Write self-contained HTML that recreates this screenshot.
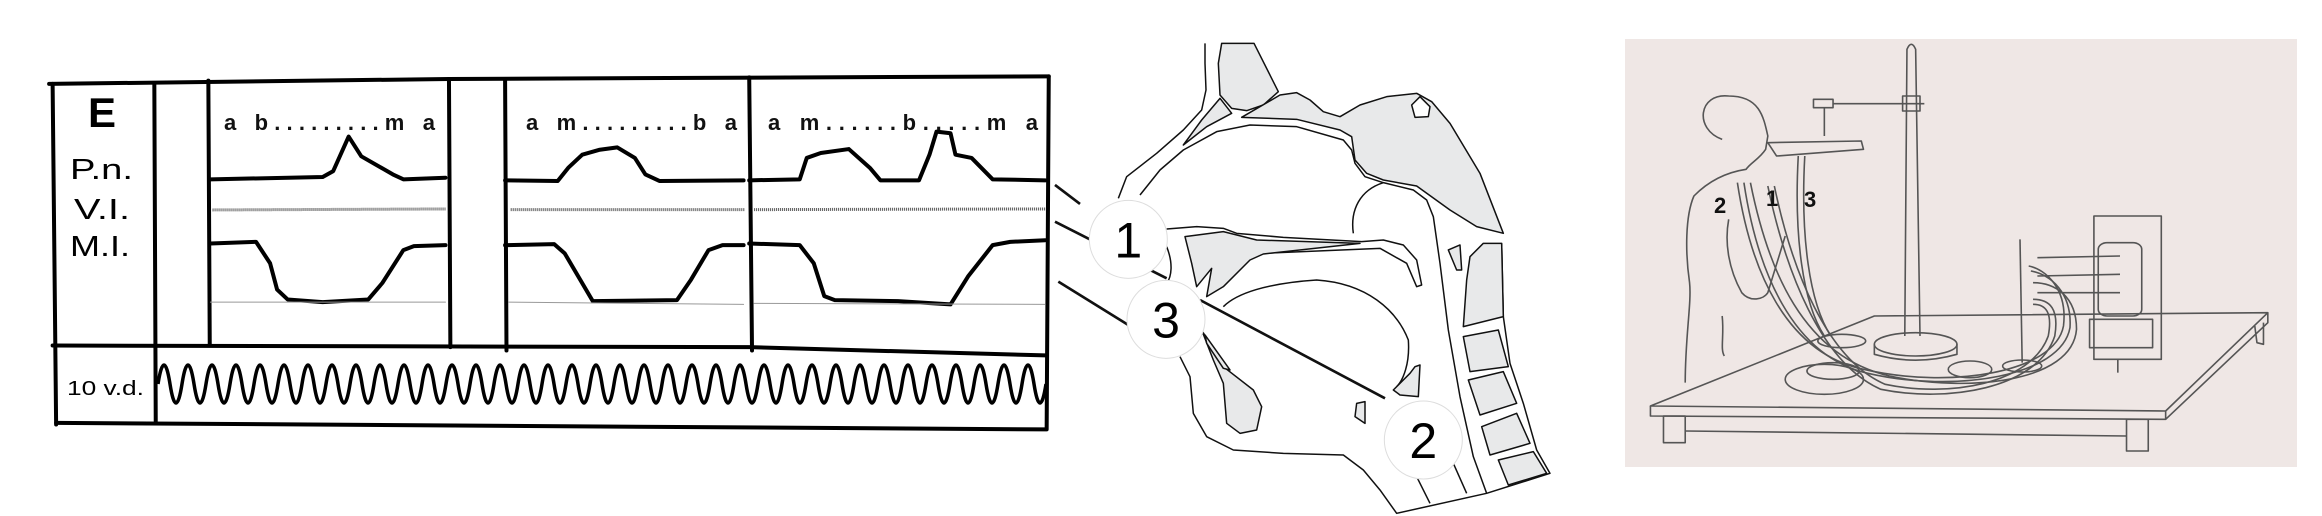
<!DOCTYPE html>
<html><head><meta charset="utf-8"><style>
html,body{margin:0;padding:0;background:#fff;}
svg{display:block;}
text{font-family:"Liberation Sans","DejaVu Sans",sans-serif;}
</style></head><body>
<svg id="s" width="2322" height="516" viewBox="0 0 2322 516" xmlns="http://www.w3.org/2000/svg">
<rect width="2322" height="516" fill="#fff"/>

<!-- ===== CHART (zoom1 coords) ===== -->
<g transform="scale(0.70151,0.32906)" fill="none" stroke="#000" stroke-linejoin="round" stroke-linecap="round">
 <g stroke-width="4">
  <polyline vector-effect="non-scaling-stroke" points="70,255 640,240 1495,232"/>
  <line vector-effect="non-scaling-stroke" x1="75" y1="255" x2="80" y2="1290"/>
  <line vector-effect="non-scaling-stroke" x1="220" y1="255" x2="222" y2="1280"/>
  <line vector-effect="non-scaling-stroke" x1="297" y1="245" x2="299" y2="1050"/>
  <line vector-effect="non-scaling-stroke" x1="640" y1="240" x2="642" y2="1055"/>
  <line vector-effect="non-scaling-stroke" x1="720" y1="240" x2="722" y2="1065"/>
  <line vector-effect="non-scaling-stroke" x1="1068" y1="235" x2="1072" y2="1065"/>
  <line vector-effect="non-scaling-stroke" x1="1495" y1="232" x2="1492" y2="1305"/>
  <polyline vector-effect="non-scaling-stroke" points="75,1050 1068,1055 1490,1080"/>
  <polyline vector-effect="non-scaling-stroke" points="80,1285 1490,1305"/>
  <polyline vector-effect="non-scaling-stroke" points="300,545 460,538 475,520 497,415 515,475 560,530 575,545 635,540"/>
  <polyline vector-effect="non-scaling-stroke" points="720,548 795,550 810,510 830,470 855,455 880,448 905,480 920,530 940,550 1060,548"/>
  <polyline vector-effect="non-scaling-stroke" points="1068,548 1140,545 1150,480 1170,465 1210,453 1240,510 1255,548 1310,548 1325,470 1335,400 1355,405 1362,470 1385,480 1415,545 1490,548"/>
  <polyline vector-effect="non-scaling-stroke" points="300,740 365,735 385,800 395,880 410,910 460,918 525,910 545,860 575,760 590,748 635,745"/>
  <polyline vector-effect="non-scaling-stroke" points="720,745 790,742 805,770 845,915 965,912 985,850 1010,760 1030,745 1060,745"/>
  <polyline vector-effect="non-scaling-stroke" points="1068,740 1140,745 1160,800 1175,900 1190,912 1280,915 1355,925 1380,840 1415,745 1440,735 1490,730"/>
 </g>
 <g stroke="#999" stroke-width="1">
  <line vector-effect="non-scaling-stroke" x1="300" y1="918" x2="635" y2="918"/>
  <line vector-effect="non-scaling-stroke" x1="725" y1="918" x2="1060" y2="925"/>
  <line vector-effect="non-scaling-stroke" x1="1075" y1="922" x2="1490" y2="925"/>
 </g>
 <g stroke="#555" stroke-width="3" stroke-dasharray="1 1" stroke-linecap="butt">
  <line vector-effect="non-scaling-stroke" x1="303" y1="638" x2="635" y2="635"/>
  <line vector-effect="non-scaling-stroke" x1="728" y1="637" x2="1062" y2="637"/>
  <line vector-effect="non-scaling-stroke" x1="1075" y1="637" x2="1490" y2="635"/>
 </g>
</g>
<path id="wave" fill="none" stroke="#000" stroke-width="3.5" d=""/>
<text x="102" y="127" font-size="42" font-weight="bold" text-anchor="middle">E</text>
<text x="70" y="179" font-size="29" textLength="63" lengthAdjust="spacingAndGlyphs">P.n.</text>
<text x="74" y="219" font-size="29" textLength="56" lengthAdjust="spacingAndGlyphs">V.I.</text>
<text x="70" y="256" font-size="29" textLength="60" lengthAdjust="spacingAndGlyphs">M.I.</text>
<text x="67" y="395" font-size="20" textLength="77" lengthAdjust="spacingAndGlyphs">10 v.d.</text>
<g font-size="22" font-weight="bold" fill="#111">
<text x="224" y="130" textLength="211" lengthAdjust="spacing">a b.........m a</text>
<text x="526" y="130" textLength="211" lengthAdjust="spacing">a m.........b a</text>
<text x="768" y="130" textLength="270" lengthAdjust="spacing">a m......b.....m a</text>
</g>

<!-- ===== HEAD ===== -->
<g transform="translate(1050,30) scale(0.33333)" stroke="#111" stroke-width="4.5" stroke-linejoin="round" fill="none">
 <polygon fill="#e8e9ea" points="515,40 612,40 685,185 640,225 590,242 545,235 510,195 505,100"/>
 <polygon fill="#e8e9ea" points="510,205 545,250 470,290 400,345 455,270"/>
 <polygon fill="#e8e9ea" points="575,262 690,195 740,188 780,210 820,245 870,260 930,225 1010,200 1100,190 1145,215 1200,280 1290,430 1360,610 1280,590 1200,540 1100,468 1000,450 950,430 915,390 905,320 870,300 740,268"/>
 <polygon fill="#fff" points="1085,225 1110,200 1140,230 1135,260 1095,262"/>
 <polyline points="465,40 465,100 468,180 455,240 400,300 320,370 230,440 205,505"/>
 <polyline points="270,495 330,420 400,360 500,305 600,285 740,290 880,330 905,360 915,400 945,440 1000,458 1090,480 1130,510 1150,560 1170,700 1195,900 1230,1100 1270,1280 1310,1390"/>
 <path d="M1000,458 C930,480 900,540 910,610"/>
 <polyline points="350,597 440,590 520,595 560,610 700,622 935,635 1000,630 1060,645 1100,690 1115,765 1100,770 1070,700 990,655 640,670"/>
 <polygon fill="#e8e9ea" points="405,620 520,605 620,630 930,640 640,672 600,690 520,770 470,800 485,715 440,770 425,700"/>
 <path d="M350,650 C370,700 365,740 350,760"/>
 <path d="M520,830 C560,790 650,760 800,750 C950,760 1040,840 1075,930 C1080,1000 1060,1050 1040,1070"/>
 <polyline points="390,980 420,1040 430,1150 470,1220 550,1260 700,1270 880,1275 940,1320 990,1380 1040,1450 1310,1390 1500,1330 1460,1260 1420,1120 1380,1000 1360,860 1355,640"/>
 <polygon fill="#e8e9ea" points="455,900 520,1010 610,1080 635,1130 620,1200 570,1210 530,1180 520,1060 490,990"/>
 <polygon fill="#e8e9ea" points="465,915 540,1020 520,1015 470,940"/>
 <polygon fill="#e8e9ea" points="1095,1010 1110,1005 1105,1100 1050,1095 1030,1080 1080,1030"/>
 <polygon fill="#e8e9ea" points="920,1120 945,1115 945,1180 915,1160"/>
 <polygon fill="#e8e9ea" points="1195,660 1230,645 1235,720 1220,720"/>
 <polygon fill="#e8e9ea" points="1260,680 1300,640 1355,640 1360,860 1240,890 1250,750"/>
 <polygon fill="#e8e9ea" points="1240,920 1345,900 1375,1010 1260,1025"/>
 <polygon fill="#e8e9ea" points="1255,1050 1360,1025 1400,1120 1290,1155"/>
 <polygon fill="#e8e9ea" points="1295,1190 1400,1150 1440,1240 1320,1275"/>
 <polygon fill="#e8e9ea" points="1345,1290 1450,1265 1490,1330 1375,1365"/>
 <line x1="1100" y1="1340" x2="1140" y2="1420"/>
 <line x1="1210" y1="1300" x2="1250" y2="1390"/>
 <g stroke-width="8">
  <line x1="15" y1="465" x2="90" y2="522"/>
  <line x1="15" y1="575" x2="350" y2="745"/>
  <line x1="25" y1="755" x2="235" y2="885"/>
  <line x1="450" y1="810" x2="1005" y2="1105"/>
 </g>
 <g fill="#fff" stroke="#ddd" stroke-width="3">
  <circle cx="235" cy="628" r="117"/>
  <circle cx="348" cy="868" r="117"/>
  <circle cx="1120" cy="1230" r="117"/>
 </g>
 <g fill="#000" stroke="none" font-size="150" text-anchor="middle">
  <text x="235" y="682">1</text>
  <text x="348" y="922">3</text>
  <text x="1120" y="1284">2</text>
 </g>
</g>

<!-- ===== PHOTO ===== -->
<rect x="1625" y="39" width="672" height="428" fill="#efe7e5"/>
<g transform="translate(1620,36) scale(0.43478,0.33333)" fill="none" stroke="#555" stroke-width="1.6" stroke-linejoin="round">
 <polygon vector-effect="non-scaling-stroke" points="70,1110 585,840 1490,830 1255,1125"/>
 <polyline vector-effect="non-scaling-stroke" points="70,1110 70,1140 1255,1150 1255,1125"/>
 <polyline vector-effect="non-scaling-stroke" points="1255,1150 1490,860 1490,830"/>
 <rect vector-effect="non-scaling-stroke" x="100" y="1140" width="50" height="80"/>
 <rect vector-effect="non-scaling-stroke" x="1165" y="1150" width="50" height="95"/>
 <polyline vector-effect="non-scaling-stroke" points="1460,870 1465,920 1480,925 1480,860"/>
 <line vector-effect="non-scaling-stroke" x1="150" y1="1185" x2="1165" y2="1200"/>
 <path vector-effect="non-scaling-stroke" d="M655,900 L660,40 Q670,10 680,40 L690,900"/>
 <ellipse vector-effect="non-scaling-stroke" cx="680" cy="925" rx="95" ry="35"/>
 <path vector-effect="non-scaling-stroke" d="M585,925 L585,955 Q680,990 775,955 L775,925"/>
 <rect vector-effect="non-scaling-stroke" x="445" y="190" width="45" height="25"/>
 <line vector-effect="non-scaling-stroke" x1="490" y1="203" x2="700" y2="203"/>
 <rect vector-effect="non-scaling-stroke" x="650" y="180" width="40" height="45"/>
 <line vector-effect="non-scaling-stroke" x1="470" y1="215" x2="470" y2="300"/>
 <path vector-effect="non-scaling-stroke" d="M340,320 L555,315 L560,340 L360,360 Z"/>
 <path vector-effect="non-scaling-stroke" d="M235,310 C170,280 180,170 250,180 C320,180 330,240 340,300 L335,340 C320,370 300,380 290,400 C240,410 200,440 170,480 C150,540 150,650 160,740 C165,800 150,900 150,1040"/>
 <path vector-effect="non-scaling-stroke" d="M250,550 C240,620 250,700 280,770 C300,800 330,790 340,770 L380,600"/>
 <path vector-effect="non-scaling-stroke" d="M235,840 C240,900 230,940 240,960"/>
 <path vector-effect="non-scaling-stroke" d="M270,440 C300,700 380,950 560,1000 C760,1060 1000,1010 1020,870 C1030,760 980,700 940,690"/>
 <path vector-effect="non-scaling-stroke" d="M285,440 C315,700 395,960 570,1012 C770,1072 1015,1022 1035,875 C1040,770 990,715 945,705"/>
 <path vector-effect="non-scaling-stroke" d="M300,440 C340,700 420,960 620,1020 C800,1070 1040,1040 1050,880 C1050,780 1000,740 950,740"/>
 <path vector-effect="non-scaling-stroke" d="M340,450 C380,700 460,980 600,1060 C750,1100 960,1060 1000,900 C1010,820 990,790 950,790"/>
 <path vector-effect="non-scaling-stroke" d="M355,450 C395,700 475,970 610,1045 C755,1085 945,1045 985,900 C995,830 980,805 950,805"/>
 <path vector-effect="non-scaling-stroke" d="M410,360 C400,600 420,800 470,900"/>
 <path vector-effect="non-scaling-stroke" d="M425,360 C415,600 435,800 485,900"/>
 <ellipse vector-effect="non-scaling-stroke" cx="490" cy="1005" rx="60" ry="25"/>
 <ellipse vector-effect="non-scaling-stroke" cx="470" cy="1030" rx="90" ry="45"/>
 <ellipse vector-effect="non-scaling-stroke" cx="805" cy="1000" rx="50" ry="25"/>
 <ellipse vector-effect="non-scaling-stroke" cx="925" cy="990" rx="45" ry="18"/>
 <ellipse vector-effect="non-scaling-stroke" cx="510" cy="915" rx="55" ry="20"/>
 <line vector-effect="non-scaling-stroke" x1="920" y1="610" x2="925" y2="980"/>
 <rect vector-effect="non-scaling-stroke" x="1090" y="540" width="155" height="430"/>
 <rect vector-effect="non-scaling-stroke" x="1100" y="620" width="100" height="220" rx="20"/>
 <rect vector-effect="non-scaling-stroke" x="1080" y="850" width="145" height="85"/>
 <line vector-effect="non-scaling-stroke" x1="960" y1="665" x2="1150" y2="660"/>
 <line vector-effect="non-scaling-stroke" x1="960" y1="720" x2="1150" y2="715"/>
 <line vector-effect="non-scaling-stroke" x1="960" y1="770" x2="1150" y2="770"/>
 <line vector-effect="non-scaling-stroke" x1="1145" y1="970" x2="1145" y2="1010"/>
</g>
<g font-family="Liberation Serif,serif" font-weight="bold" font-size="22" fill="#111">
 <text x="1714" y="213">2</text>
 <text x="1766" y="206">1</text>
 <text x="1804" y="207">3</text>
</g>
</svg>
<script>
var d="M158 384 q6 -38 12 0";
for(var i=0;i<73;i++) d+=" t12 0";
document.getElementById("wave").setAttribute("d",d);
</script>
</body></html>
